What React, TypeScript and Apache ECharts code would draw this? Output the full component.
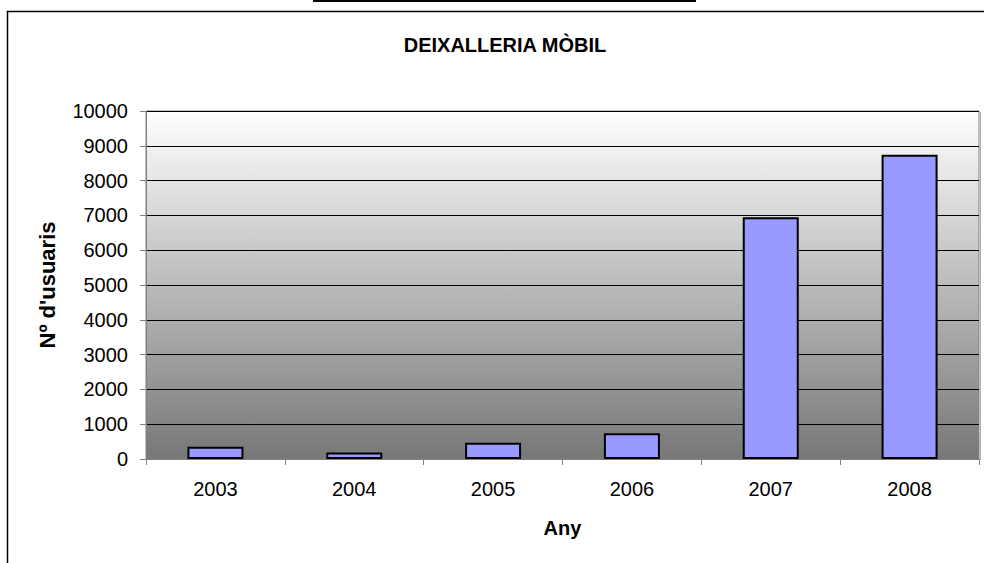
import React, { useEffect, useRef } from "react";
import * as echarts from "echarts";

const title = "DEIXALLERIA MÒBIL";
const xName = "Any";
const yName = "Nº d'usuaris";
const years = ["2003", "2004", "2005", "2006", "2007", "2008"];
const users = [350, 190, 470, 740, 6950, 8740];

const FONT = "'Liberation Sans', Arial, sans-serif";

export default function App() {
  const ref = useRef<HTMLDivElement>(null);
  useEffect(() => {
    if (!ref.current) return;
    const chart = echarts.init(ref.current, null, { renderer: "svg" });
    chart.setOption({
      animation: false,
      backgroundColor: "#ffffff",
      textStyle: { fontFamily: FONT },
      title: {
        text: title,
        left: 500,
        top: 30,
        textAlign: "center",
        textStyle: { fontFamily: FONT, fontSize: 20, fontWeight: "bold", color: "#000" },
      },
      graphic: [
        {
          type: "rect",
          shape: { x: 7.5, y: 11.5, width: 990, height: 600 },
          style: { fill: "none", stroke: "#000", lineWidth: 1.5 },
          silent: true,
        },
        {
          type: "line",
          shape: { x1: 313, y1: 1, x2: 696, y2: 1 },
          style: { stroke: "#000", lineWidth: 2 },
          silent: true,
        },
        {
          type: "line",
          shape: { x1: 980.5, y1: 112, x2: 980.5, y2: 460 },
          style: { stroke: "#b0b0b0", lineWidth: 1 },
          silent: true,
        },
      ],
      grid: {
        left: 146,
        right: 5,
        top: 111,
        bottom: 104,
        show: true,
        borderColor: "#808080",
        borderWidth: 1,
        backgroundColor: new echarts.graphic.LinearGradient(0, 0, 0, 1, [
          { offset: 0, color: "#ffffff" },
          { offset: 1, color: "#777777" },
        ]),
      },
      xAxis: {
        type: "category",
        data: years,
        name: xName,
        nameLocation: "middle",
        nameGap: 59,
        nameTextStyle: { fontFamily: FONT, fontSize: 20, fontWeight: "bold", color: "#000" },
        axisLine: { show: true, lineStyle: { color: "#808080", width: 1 } },
        axisTick: { show: true, length: 6, lineStyle: { color: "#808080" } },
        axisLabel: { fontFamily: FONT, fontSize: 20, color: "#000", margin: 20 },
        splitLine: { show: false },
      },
      yAxis: {
        type: "value",
        min: 0,
        max: 10000,
        interval: 1000,
        name: yName,
        nameLocation: "middle",
        nameGap: 88,
        nameTextStyle: { fontFamily: FONT, fontSize: 22, fontWeight: "bold", color: "#000" },
        axisLine: { show: true, lineStyle: { color: "#808080", width: 1 } },
        axisTick: { show: true, length: 6, lineStyle: { color: "#808080" } },
        axisLabel: {
          fontFamily: FONT,
          fontSize: 20,
          color: "#000",
          margin: 18,
          formatter: (v: number) => String(v),
        },
        splitLine: { show: true, lineStyle: { color: "#000", width: 1 } },
      },
      series: [
        {
          type: "bar",
          data: users,
          barWidth: 56,
          itemStyle: { color: "#9999FF", borderColor: "#000", borderWidth: 2 },
        },
      ],
    });
    return () => chart.dispose();
  }, []);
  return (
    <div
      ref={ref}
      style={{ position: "fixed", left: 0, top: 0, width: 984, height: 563 }}
    />
  );
}
